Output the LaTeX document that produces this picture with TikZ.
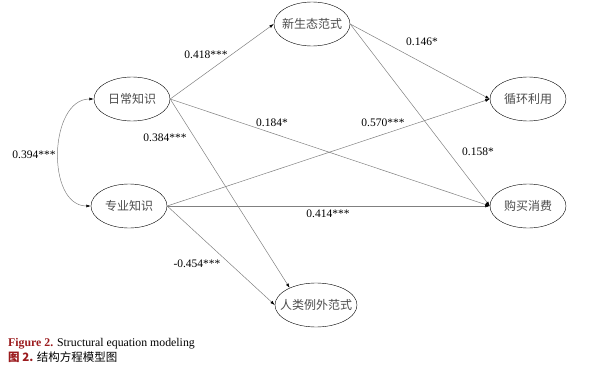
\documentclass[tikz,border=0pt]{standalone}
\usepackage{fontspec}
\setmainfont{Liberation Serif}
\newfontfamily\cjk{Noto Sans CJK SC}
\usetikzlibrary{shapes.geometric,arrows.meta}
\definecolor{figred}{HTML}{9B1B1E}
\begin{document}
\begin{tikzpicture}[x=1pt,y=-1pt,
	var/.style={ellipse, draw, thin, minimum width=76pt, minimum height=44pt, inner xsep=-4pt, inner ysep=0pt, font=\cjk\fontsize{12}{12}\selectfont, text=black!70},
	path/.style={draw=black!50, line width=0.5pt, -{Latex[length=4.5pt,width=3pt,black]}},
	coef/.style={font=\fontsize{11.5}{12}\selectfont, inner sep=0pt}]
	\useasboundingbox (0,0) rectangle (589,369);
	% latent variables
	\node[var] (rc) at (132, 99) {日常知识};
	\node[var] (zy) at (129, 206) {专业知识};
	\node[var] (xs) at (312, 24) {新生态范式};
	\node[var] (xh) at (528, 99) {循环利用};
	\node[var] (gm) at (528, 206) {购买消费};
	\node[var, minimum width=82pt, inner xsep=-7pt] (rl) at (316, 305) {人类例外范式};
	% paths
	\draw[path] (rc.east) -- (xs.west);
	\draw[path] (rc.east) -- (gm.west);
	\draw[path] (rc.east) -- (rl.147);
	\draw[path] (zy.east) -- (xh.west);
	\draw[path] (zy.east) -- (gm.west);
	\draw[path] (zy.east) -- (rl.west);
	\draw[path] (xs.east) -- (xh.west);
	\draw[path] (xs.east) -- (gm.west);
	\draw[path, {Latex[length=4.5pt,width=3pt,black]}-{Latex[length=4.5pt,width=3pt,black]}] (rc.west) .. controls +(-45,0) and +(-45,0) .. (zy.west);
	% coefficients
	\node[coef] (c1) at (206, 55) {0.418***};
	\node[coef] (c2) at (272, 123) {0.184*};
	\node[coef] (c3) at (165, 138) {0.384***};
	\node[coef] (c4) at (34, 155) {0.394***};
	\node[coef] (c5) at (383, 123) {0.570***};
	\node[coef] (c6) at (328, 214) {0.414***};
	\node[coef] (c7) at (197, 264) {-0.454***};
	\node[coef] (c8) at (422, 42) {0.146*};
	\node[coef] (c9) at (478, 152) {0.158*};
	% caption
	\node[anchor=base west, inner sep=0pt, font=\fontsize{11.8}{12}\selectfont] (cap1) at (8, 346) {\textcolor{figred}{\textbf{Figure 2.}} Structural equation modeling};
	\node[anchor=base west, inner sep=0pt, font=\cjk\fontsize{11.5}{12}\selectfont] (cap2) at (8, 361) {\textcolor{figred}{\textbf{图 2.}} 结构方程模型图};
\end{tikzpicture}
\end{document}
